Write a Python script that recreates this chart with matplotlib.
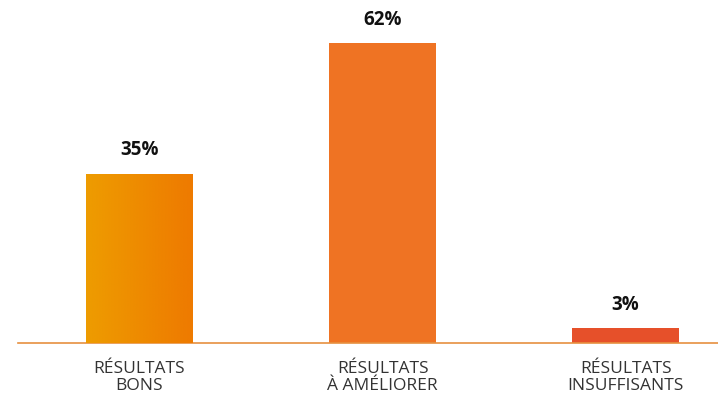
import matplotlib.pyplot as plt
import numpy as np
from matplotlib.colors import LinearSegmentedColormap

categories = ["RÉSULTATS\nBONS", "RÉSULTATS\nÀ AMÉLIORER", "RÉSULTATS\nINSUFFISANTS"]
values = [35, 62, 3]
labels = ["35%", "62%", "3%"]
colors = ["#EE8A00", "#EF7323", "#E6502A"]

plt.rcParams['font.family'] = ['Open Sans', 'DejaVu Sans']

fig = plt.figure(figsize=(7.18, 3.95), dpi=100)
ax = fig.add_axes([18/718, 52/395, 700/718, 343/395])

x = np.arange(len(values))
bars = ax.bar(x, values, width=0.44, color=colors, zorder=2)

# gradient on first bar
b = bars[0]
cmap = LinearSegmentedColormap.from_list("g", ["#EE9C00", "#EE7A00"])
grad = np.linspace(0, 1, 256).reshape(1, -1)
im = ax.imshow(grad, cmap=cmap, aspect='auto', zorder=3,
               extent=[b.get_x(), b.get_x() + b.get_width(), 0, b.get_height()])
im.set_clip_path(b)

ax.set_xlim(-0.5, 2.38)
ax.set_ylim(0, 70.9)

for xi, v, lab in zip(x, values, labels):
    ax.text(xi, v + 4.8, lab, ha='center', va='center', fontsize=13.5,
            fontweight='bold', color='#111111')

for xi, cat in zip(x, categories):
    ax.text(xi, -3.8, cat, ha='center', va='top', fontsize=12.5,
            color='#333333', linespacing=1.05)

for s in ['top', 'right', 'left']:
    ax.spines[s].set_visible(False)
ax.spines['bottom'].set_color('#E69040')
ax.spines['bottom'].set_linewidth(1.2)
ax.set_xticks([])
ax.set_yticks([])

fig.savefig("out.png", dpi=100)
